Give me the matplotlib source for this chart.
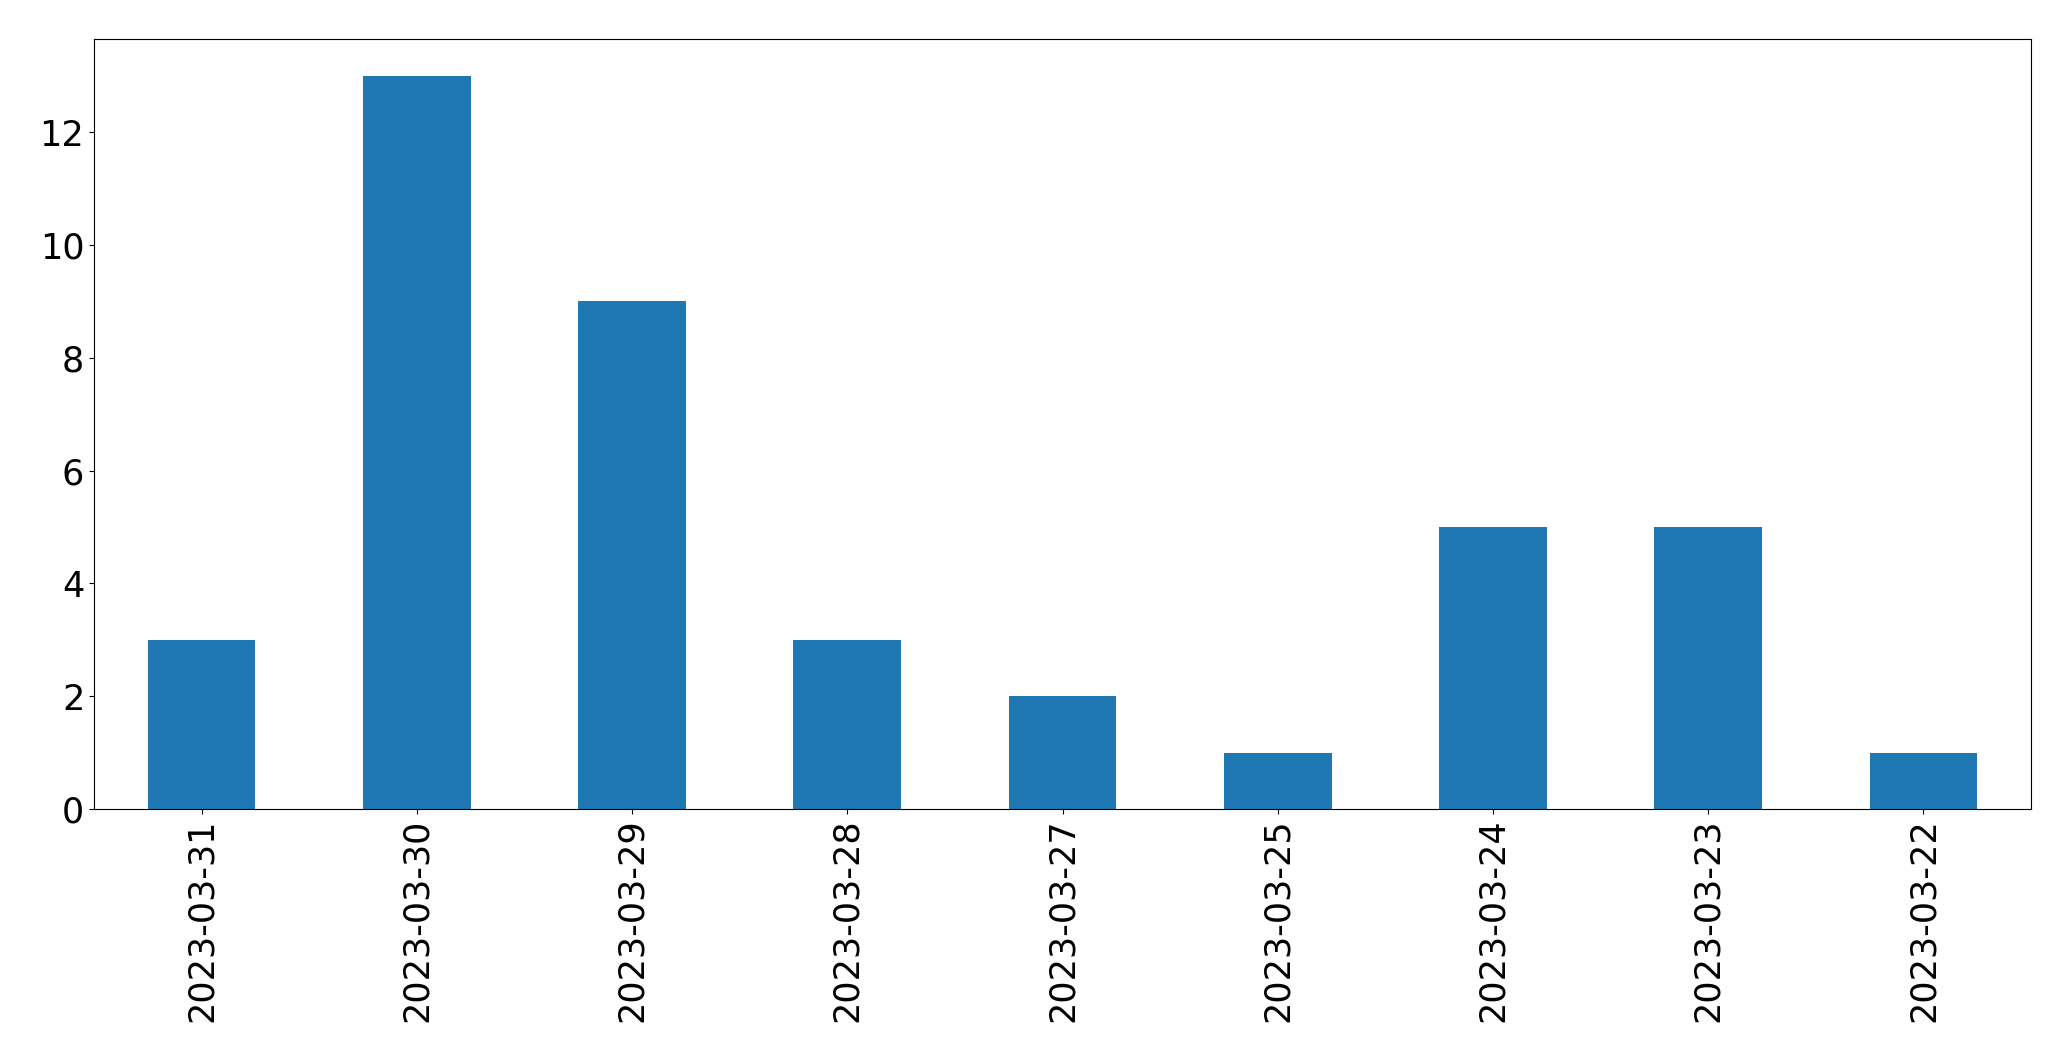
import matplotlib
matplotlib.use("Agg")
import matplotlib.pyplot as plt
import numpy as np

dates = ["2023-03-31", "2023-03-30", "2023-03-29", "2023-03-28", "2023-03-27",
         "2023-03-25", "2023-03-24", "2023-03-23", "2023-03-22"]
counts = [3, 13, 9, 3, 2, 1, 5, 5, 1]

W, H = 2071, 1061
fig = plt.figure(figsize=(W / 100, H / 100), dpi=100)
left, right, top, bottom = 94, 2031, 39, 809
ax = fig.add_axes([left / W, 1 - bottom / H, (right - left) / W, (bottom - top) / H])
x = np.arange(len(dates))
ax.bar(x, counts, width=0.5, color="#1f77b4")
ax.set_xlim(-0.5, len(dates) - 0.5)
ax.set_ylim(0, 13.65)
ax.set_xticks(x)
ax.set_xticklabels(dates, rotation=90)
ax.tick_params(labelsize=25.2)
fig.savefig("out.png", dpi=100)
